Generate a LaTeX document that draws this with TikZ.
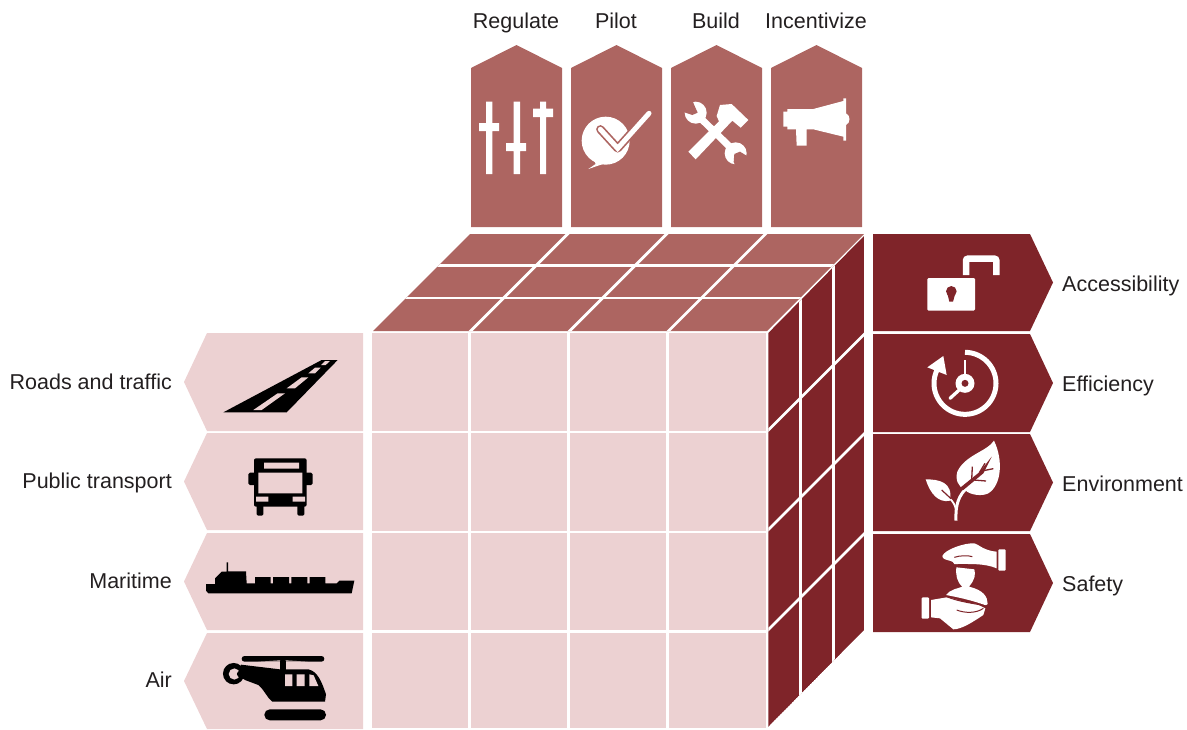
\documentclass[tikz,border=0pt]{standalone}
\usepackage{fontspec}
\setmainfont{Liberation Sans}
\definecolor{midred}{HTML}{AD6561}
\definecolor{darkred}{HTML}{7F2429}
\definecolor{palered}{HTML}{ECD1D2}
\definecolor{labelink}{HTML}{231F20}
\tikzset{
  zoomed/.style={x=0.33333pt,y=-0.33333pt},
  gridline/.style={draw=white,line width=2.8pt},
  lbl/.style={text=labelink,font=\fontsize{21.5}{25}\selectfont,inner sep=0pt},
  lblleft/.style={lbl,anchor=base east},
  lblright/.style={lbl,anchor=base west},
  lbltop/.style={lbl,anchor=base},
}
\begin{document}
\begin{tikzpicture}[x=1pt,y=-1pt]
\useasboundingbox (0,0) rectangle (1187,729);
% top arrows
\foreach \a in {471,571,671,771}{
  \fill[midred] (\a,227) -- (\a,68) -- (\a+45.5,45) -- (\a+91,68) -- (\a+91,227) -- cycle;
}
% left arrows
\foreach \t/\b in {333/431,433/530,533/630,633/729}{
  \fill[palered] (363,\t) -- (207,\t) -- (184,{(\t+\b)/2}) -- (207,\b) -- (363,\b) -- cycle;
}
% right arrows
\foreach \t/\b in {234/331,334/432,434/531,534/632}{
  \fill[darkred] (873,\t) -- (1030,\t) -- (1053,{(\t+\b)/2}) -- (1030,\b) -- (873,\b) -- cycle;
}
% front face
\fill[palered] (372,333) rectangle (766,728);
\foreach \a in {469.7,568.6,667.5}{\draw[gridline] (\a,333) -- (\a,728);}
\foreach \a in {432,532,631.5}{\draw[gridline] (372,\a) -- (766,\a);}
% top face
\begin{scope}
\clip (373,331) -- (470,234) -- (864,234) -- (767,331) -- cycle;
\fill[midred] (373,331) -- (470,234) -- (864,234) -- (767,331) -- cycle;
\foreach \a in {265.5,298}{\draw[gridline] (360,\a) -- (870,\a);}
\foreach \a in {469.7,568.6,667.5}{\draw[gridline] (\a,332) -- (\a+99,233);}
\end{scope}
% right face
\begin{scope}
\clip (768.3,333) -- (864,236) -- (864,630) -- (768.3,727) -- cycle;
\fill[darkred] (768,333) -- (864,236) -- (864,630) -- (768,727) -- cycle;
\foreach \a in {800.2,833.5}{\draw[gridline] (\a,230) -- (\a,730);}
\foreach \a in {431.5,531,631}{\draw[gridline] (767,\a) -- (865,\a-98);}
\end{scope}

% --- Regulate icon
\begin{scope}[shift={(460,30)},zoomed]
\fill[white] (78,215) rectangle (97,432) (57,279) rectangle (117,303);
\fill[white] (161,215) rectangle (180,432) (138,339) rectangle (198,363);
\fill[white] (240,215) rectangle (258,432) (219,236) rectangle (279,261);
% Incentivize icon
\fill[white] (970,245) -- (982,245) -- (982,237) -- (1060,237) -- (1150,213) -- (1150,205) -- (1158,205) -- (1158,250)
  .. controls (1172,255) and (1172,280) .. (1158,285) -- (1158,332) -- (1150,332) -- (1150,320) -- (1060,298) -- (1040,298)
  -- (1040,347) -- (1010,347) -- (1008,298) -- (982,298) -- (982,290) -- (970,290) -- cycle;
\end{scope}

% --- Pilot and Build icons
\begin{scope}[shift={(575,100)},zoomed]
\fill[white] (92,122) circle[radius=24pt];
\fill[white] (40,207) -- (62,192) -- (50,165) -- (90,190) -- cycle;
\draw[midred,line width=8.4pt,line cap=round,line join=round] (76,88) -- (128,145) -- (222,40);
\draw[white,line width=5pt,line cap=round,line join=miter] (76,88) -- (128,145) -- (222,40);
% wrench
\draw[white,line width=7pt] (372,50) -- (472,148);
\fill[white] (362,38) circle[radius=11pt] (482,160) circle[radius=11pt];
\fill[midred] (368,38) -- (352,45) -- (325,36) -- (318,0) -- (352,0) -- (358,16) -- cycle;
\fill[midred] (478,162) -- (495,155) -- (516,168) -- (526,205) -- (485,205) -- (476,186) -- cycle;
% hammer
\fill[white] (340,155) -- (362,178) -- (472,62) -- (497,83) -- (520,60) -- (470,12) -- (435,15) -- (425,48) -- (432,64) -- cycle;
\end{scope}

% --- Road and bus
\begin{scope}[shift={(180,330)},zoomed]
\fill[black] (130,247) -- (425,90) -- (473,90) -- (320,247) -- cycle;
\fill[palered] (220,240) -- (245,240) -- (315,190) -- (293,190) -- cycle
  (320,175) -- (345,175) -- (385,142) -- (365,142) -- cycle
  (385,130) -- (405,130) -- (422,113) -- (405,113) -- cycle
  (423,105) -- (437,105) -- (450,93) -- (435,93) -- cycle;
\fill[black,rounded corners=2pt] (222,385) rectangle (380,530);
\fill[black,rounded corners=1.5pt] (230,520) rectangle (250,557) (352,520) rectangle (373,557)
  (205,428) rectangle (230,465) (372,428) rectangle (398,465);
\fill[palered] (252,398) rectangle (357,416) (235,428) rectangle (367,490)
  (228,500) rectangle (265,515) (338,500) rectangle (375,515);
\end{scope}

% --- Ship
\begin{scope}[shift={(180,530)},zoomed]
\fill[black] (78,162) -- (105,162) -- (105,145) -- (125,125) -- (140,125) -- (140,97) -- (144,97) -- (144,124) -- (198,124) -- (200,160) -- (225,160) -- (225,141) -- (272,141) -- (272,160) -- (279,160) -- (279,141) -- (327,141) -- (327,160) -- (334,160) -- (334,141) -- (382,141) -- (382,160) -- (389,160) -- (389,141) -- (436,141) -- (436,160) -- (470,160) -- (478,152) -- (523,152) -- (515,190) -- (85,190) -- (78,182) -- cycle;
\end{scope}

% --- Helicopter
\begin{scope}[shift={(215,650)},zoomed]
\fill[black,rounded corners=2.8pt] (80,18) rectangle (328,35);
\fill[palered] (130,35) -- (195,35) -- (195,31) -- cycle (212,35) -- (278,35) -- (212,31) -- cycle;
\fill[black] (195,33) rectangle (212,64);
\fill[black,rounded corners=5.4pt] (148,178) rectangle (333,211);
\fill[black] (56,71) circle[radius=10.7pt];
\fill[palered] (58,72) circle[radius=5.6pt];
\fill[black] (76,72) circle[radius=3.4pt];
\fill[black] (78,44) -- (195,58) -- (280,58)
  .. controls (308,64) and (320,95) .. (333,133) -- (330,155) -- (172,155)
  .. controls (155,142) and (150,122) .. (130,105) -- (90,90) -- (76,80) -- (76,50) -- cycle;
\fill[palered] (210,73) rectangle (232,108) (245,73) rectangle (269,108);
\fill[palered] (283,73) -- (296,76) -- (310,108) -- (283,108) -- cycle;
\end{scope}

% --- Lock and clock
\begin{scope}[shift={(870,230)},zoomed]
\fill[white,rounded corners=1.2pt] (172,144) rectangle (315,242);
\fill[darkred] (244,184) circle[radius=5.3pt];
\fill[darkred] (232,190) -- (256,190) -- (249,215) -- (238,215) -- cycle;
\draw[white,line width=6.5pt,rounded corners=2pt] (288,135) -- (288,86) -- (379,86) -- (379,135);
\draw[white,line width=5pt] (285,367) arc[start angle=90,end angle=-206,radius=31pt];
\fill[white] (172,412) -- (220,378) -- (230,435) -- cycle;
\draw[white,line width=2.2pt] (285,390) -- (285,440);
\draw[white,line width=3.3pt,line cap=round] (240,505) -- (272,476);
\fill[white] (285,460) circle[radius=9.5pt];
\fill[darkred] (285,460) circle[radius=3.5pt];
\end{scope}

% --- Leaf
\begin{scope}[shift={(870,430)},zoomed]
\fill[white] (372,32) .. controls (350,65) and (285,75) .. (262,125) .. controls (255,150) and (265,170) .. (285,180)
  .. controls (300,195) and (335,200) .. (355,190) .. controls (395,165) and (400,90) .. cycle;
\fill[white] (167,148) .. controls (205,148) and (250,155) .. (240,212) .. controls (205,220) and (180,190) .. cycle;
\draw[white,line width=3pt] (258,272) .. controls (256,225) and (265,195) .. (295,170);
\draw[white,line width=1.8pt] (238,205) .. controls (250,215) and (255,225) .. (258,240);
\fill[darkred] (272,172) -- (330,125) -- (365,80) -- (340,130) -- (280,180) -- cycle;
\draw[darkred,line width=1.3pt] (305,150) -- (307,110) (328,128) -- (345,100) (340,122) -- (370,116) (312,150) -- (348,153);
\draw[darkred,line width=1.2pt] (215,180) -- (243,206);
\end{scope}

% --- Safety hands
\begin{scope}[shift={(915,540)},zoomed]
\fill[white,rounded corners=1pt] (250,28) rectangle (272,92);
\fill[white] (82,48) .. controls (90,28) and (150,8) .. (178,10) .. controls (190,12) and (205,32) .. (245,35) -- (245,85)
  .. controls (210,70) and (170,72) .. (118,72) .. controls (115,62) and (100,62) .. (90,58) .. controls (85,56) and (82,52) .. cycle;
\draw[darkred,line width=1pt] (118,52) .. controls (135,46) and (160,46) .. (172,50);
\fill[white] (124,82) -- (178,88) .. controls (182,105) and (180,118) .. (162,140)
  .. controls (205,150) and (218,170) .. (218,192) -- (212,196) .. controls (170,180) and (120,170) .. (93,165)
  .. controls (105,148) and (130,145) .. (142,140) .. controls (125,125) and (122,105) .. cycle;
\fill[white,rounded corners=1pt] (20,172) rectangle (42,236);
\fill[white] (48,180) -- (95,172) .. controls (120,175) and (150,190) .. (185,192) -- (211,205) -- (205,225)
  .. controls (175,245) and (140,268) .. (115,268) -- (75,235) -- (48,232) -- cycle;
\draw[darkred,line width=1pt] (95,170) .. controls (130,185) and (175,190) .. (214,198)
  (125,210) .. controls (150,220) and (185,220) .. (205,205);
\end{scope}

% --- Labels
\node[lbltop] (regulate) at (516,28) {Regulate};
\node[lbltop] (pilot) at (616,28) {Pilot};
\node[lbltop] (build) at (716,28) {Build};
\node[lbltop] (incentivize) at (816,28) {Incentivize};
\node[lblleft] (roads) at (172,389) {Roads and traffic};
\node[lblleft] (public) at (172,488) {Public transport};
\node[lblleft] (maritime) at (172,588) {Maritime};
\node[lblleft] (air) at (172,687) {Air};
\node[lblright] (access) at (1062,291) {Accessibility};
\node[lblright] (effic) at (1062,391) {Efficiency};
\node[lblright] (environ) at (1062,491) {Environment};
\node[lblright] (safety) at (1062,591) {Safety};
\end{tikzpicture}
\end{document}
